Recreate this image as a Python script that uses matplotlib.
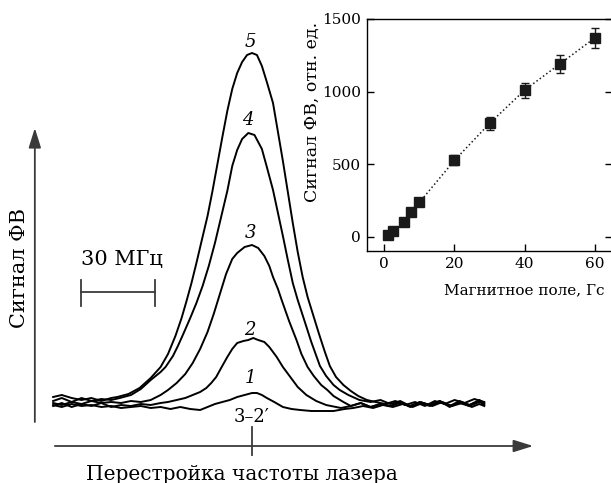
import matplotlib
matplotlib.use('Agg')
import matplotlib.pyplot as plt

plt.rcParams['font.family'] = ['DejaVu Serif']

# --- main panel: photo-signal traces vs laser detuning (MHz, arb. units) ---
x1 = [-80.5, -77, -73, -69, -65, -61, -57, -53, -49, -45, -41, -37, -33, -29, -25, -21, -18, -15,
      -12, -9, -6, -3, 0, 2, 4, 6, 9, 12.5, 16, 19.5, 24, 28.5, 33, 37.5, 41, 45, 49, 53, 57, 61,
      65, 69, 73, 77, 81, 85, 89, 92, 94]
y1 = [-1, -3, 0, -2, -1, -3, -2, -4, -3, -2, -4, -3, -5, -3, -5, -6, -3, 0,
      2, 4, 7, 9, 11, 11, 9, 6, 2, -3, -5, -6, -7, -7, -7, -5, -4, -2, -4, -1, -3, 0,
      -3, 1, -2, 2, -2, 1, -3, 0, -2]

x2 = [-80.5, -77, -73, -69, -65, -61, -57, -53, -49, -45, -41, -37, -34, -30.5, -27, -24, -21,
      -18.5, -16.5, -14.5, -12.5, -10, -8, -6, -3.5, -1.5, 0.5, 2.5, 5, 7, 10, 12.5, 15.5, 18.5,
      22, 26, 30, 34, 36, 40, 44, 48, 52, 56, 60, 64, 68, 72, 76, 80, 84, 88, 92, 94]
y2 = [-2, 1, -3, 0, -2, 1, -3, -1, -2, 0, -1, 1, 2, 4, 6, 9, 12,
      16, 21, 27, 36, 47, 55, 61, 63, 64, 66, 64, 62, 57, 47, 37, 27, 17,
      9, 3, -1, -3, -4, -2, 1, -3, 0, -2, 1, -2, 2, -1, 3, -2, 1, -2, 2, 0]

x3 = [-80.5, -77, -73, -69, -65, -61, -57, -53, -49, -45, -41, -37, -34, -30.5, -27, -24, -21,
      -18, -15.5, -13, -10.5, -8, -6, -3, 0, 2.5, 5, 7, 8.5, 10.5, 12, 15, 18, 20, 22.5, 25, 28,
      30.5, 33, 37, 40, 44, 48, 52, 56, 60, 64, 68, 72, 76, 80, 84, 88, 92, 94]
y3 = [1, -1, 2, 0, 3, 1, 2, 1, 3, 2, 4, 9, 14, 21, 30, 41, 55,
      72, 90, 110, 130, 145, 151, 157, 159, 156, 148, 138, 127, 115, 104, 83, 64, 50, 37, 28, 19,
      14, 8, 2, -2, 1, -3, 0, -2, 2, -3, 1, -2, 2, -2, 3, -1, 3, -1]

x4 = [-80.5, -77, -73, -69, -65, -61, -57, -53.5, -49, -45, -41, -37, -35, -32, -30, -28, -25,
      -22.5, -20, -17.5, -15, -12.5, -10, -8, -6, -4, -1.5, 1, 4, 6, 8.5, 10.5, 12.5, 14.5, 16.5,
      18.5, 21, 24, 27.5, 30, 33, 35.5, 39, 43.5, 48, 52, 56, 60, 64, 68, 72, 76, 80, 84, 88, 92, 94]
y4 = [3, 6, 2, 6, 3, 5, 4, 6, 9, 15, 24, 32, 37, 48, 58, 69, 86,
      101, 118, 138, 161, 187, 213, 238, 254, 265, 271, 269, 255, 237, 214, 191, 168, 144, 121,
      104, 85, 62, 38, 28, 19, 14, 9, 4, 2, 4, 0, 3, -2, 2, -1, 3, -3, 2, -1, 4, 1]

x5 = [-80.5, -77, -73, -69, -65, -61, -57, -54.5, -50, -45.5, -41, -37, -34, -31, -28.5, -26.5,
      -24.5, -22.5, -20.5, -18, -16, -14, -12, -10, -8, -6, -4, -2, 0, 2, 4, 6, 8.5, 10.5, 12.5,
      14.5, 16.5, 18.5, 20.5, 22.5, 24.5, 27, 29.5, 31.5, 34, 37, 40, 43, 46.5, 50, 54, 58, 62, 66,
      70, 74, 78, 82, 86, 90, 94]
y5 = [7, 9, 6, 4, 6, 3, 6, 7, 10, 16, 26, 37, 50, 68, 86, 103,
      121, 141, 162, 188, 213, 240, 267, 293, 315, 331, 342, 349, 351, 349, 338, 322, 301, 272, 243,
      212, 181, 152, 127, 107, 91, 71, 52, 38, 27, 19, 13, 8, 4, 2, 0, 3, -1, 2,
      -2, 3, 0, 4, 1, 5, 2]

traces = [(x1, y1), (x2, y2), (x3, y3), (x4, y4), (x5, y5)]
trace_labels = ['1', '2', '3', '4', '5']
label_x = [-0.8, -0.8, -0.8, -1.6, -0.8]
label_y = [26, 74, 171, 284, 362]

# --- inset: signal vs magnetic field ---
field = [1, 2.5, 5.5, 7.5, 10, 20, 30, 40, 50, 60]
signal = [10, 40, 100, 170, 235, 525, 780, 1010, 1190, 1370]
signal_err = [5, 8, 10, 12, 15, 35, 45, 52, 62, 70]

fig = plt.figure(figsize=(6.11, 4.83), dpi=100)
ax = fig.add_axes([0, 0, 1, 1])
ax.set_xlim(-102.0, 145.3)
ax.set_ylim(-79, 404)
ax.axis('off')

for (xs, ys) in traces:
    ax.plot(xs, ys, color='black', lw=1.4, solid_joinstyle='round')
for lab, lx, ly in zip(trace_labels, label_x, label_y):
    ax.text(lx, ly, lab, fontsize=13, style='italic', ha='center', va='center')

ax.text(0, -13, '3–2′', fontsize=13, ha='center', va='center')

arrow = dict(arrowstyle='-|>,head_length=0.8,head_width=0.25', color='#3a3a3a',
             lw=1.3, mutation_scale=15, shrinkA=0, shrinkB=0)
ax.annotate('', xy=(113.8, -42), xytext=(-79.8, -42), arrowprops=arrow)
ax.annotate('', xy=(-87.9, 276), xytext=(-87.9, -18), arrowprops=arrow)
ax.plot([0, 0], [-23, -51], color='#3a3a3a', lw=1.3)

ax.text(-4.2, -70, 'Перестройка частоты лазера', fontsize=14.5, ha='center', va='center')
ax.text(-94.3, 136, 'Сигнал ФВ', fontsize=15, rotation=90, ha='center', va='center')

# 30 MHz scale bar
ax.plot([-69.2, -39.2], [112.5, 112.5], color='#3a3a3a', lw=1.3)
ax.plot([-69.2, -69.2], [98, 124], color='#3a3a3a', lw=1.3)
ax.plot([-39.2, -39.2], [98, 124], color='#3a3a3a', lw=1.3)
ax.text(-52.8, 145, '30 МГц', fontsize=15, ha='center', va='center')

ax2 = fig.add_axes([366.7 / 611, 232 / 483, 245.8 / 611, 232 / 483])
ax2.errorbar(field, signal, yerr=signal_err, fmt='s', color='#1a1a1a', ms=7,
             capsize=3, elinewidth=1, capthick=1, zorder=3)
ax2.plot(field, signal, ':', color='#1a1a1a', lw=1.1)
ax2.set_xlim(-5, 65)
ax2.set_ylim(-100, 1500)
ax2.set_xticks([0, 20, 40, 60])
ax2.set_yticks([0, 500, 1000, 1500])
ax2.tick_params(direction='in', length=5, width=1, right=True, top=False, labelsize=11, pad=4)
for s in ax2.spines.values():
    s.set_linewidth(1.0)
ax2.set_ylabel('Сигнал ФВ, отн. ед.', fontsize=12.5)
ax2.yaxis.set_label_coords(-0.185, 0.6)
ax2.set_xlabel('Магнитное поле, Гс', fontsize=11)
ax2.xaxis.set_label_coords(0.641, -0.14)

fig.savefig('out.png', dpi=100)
